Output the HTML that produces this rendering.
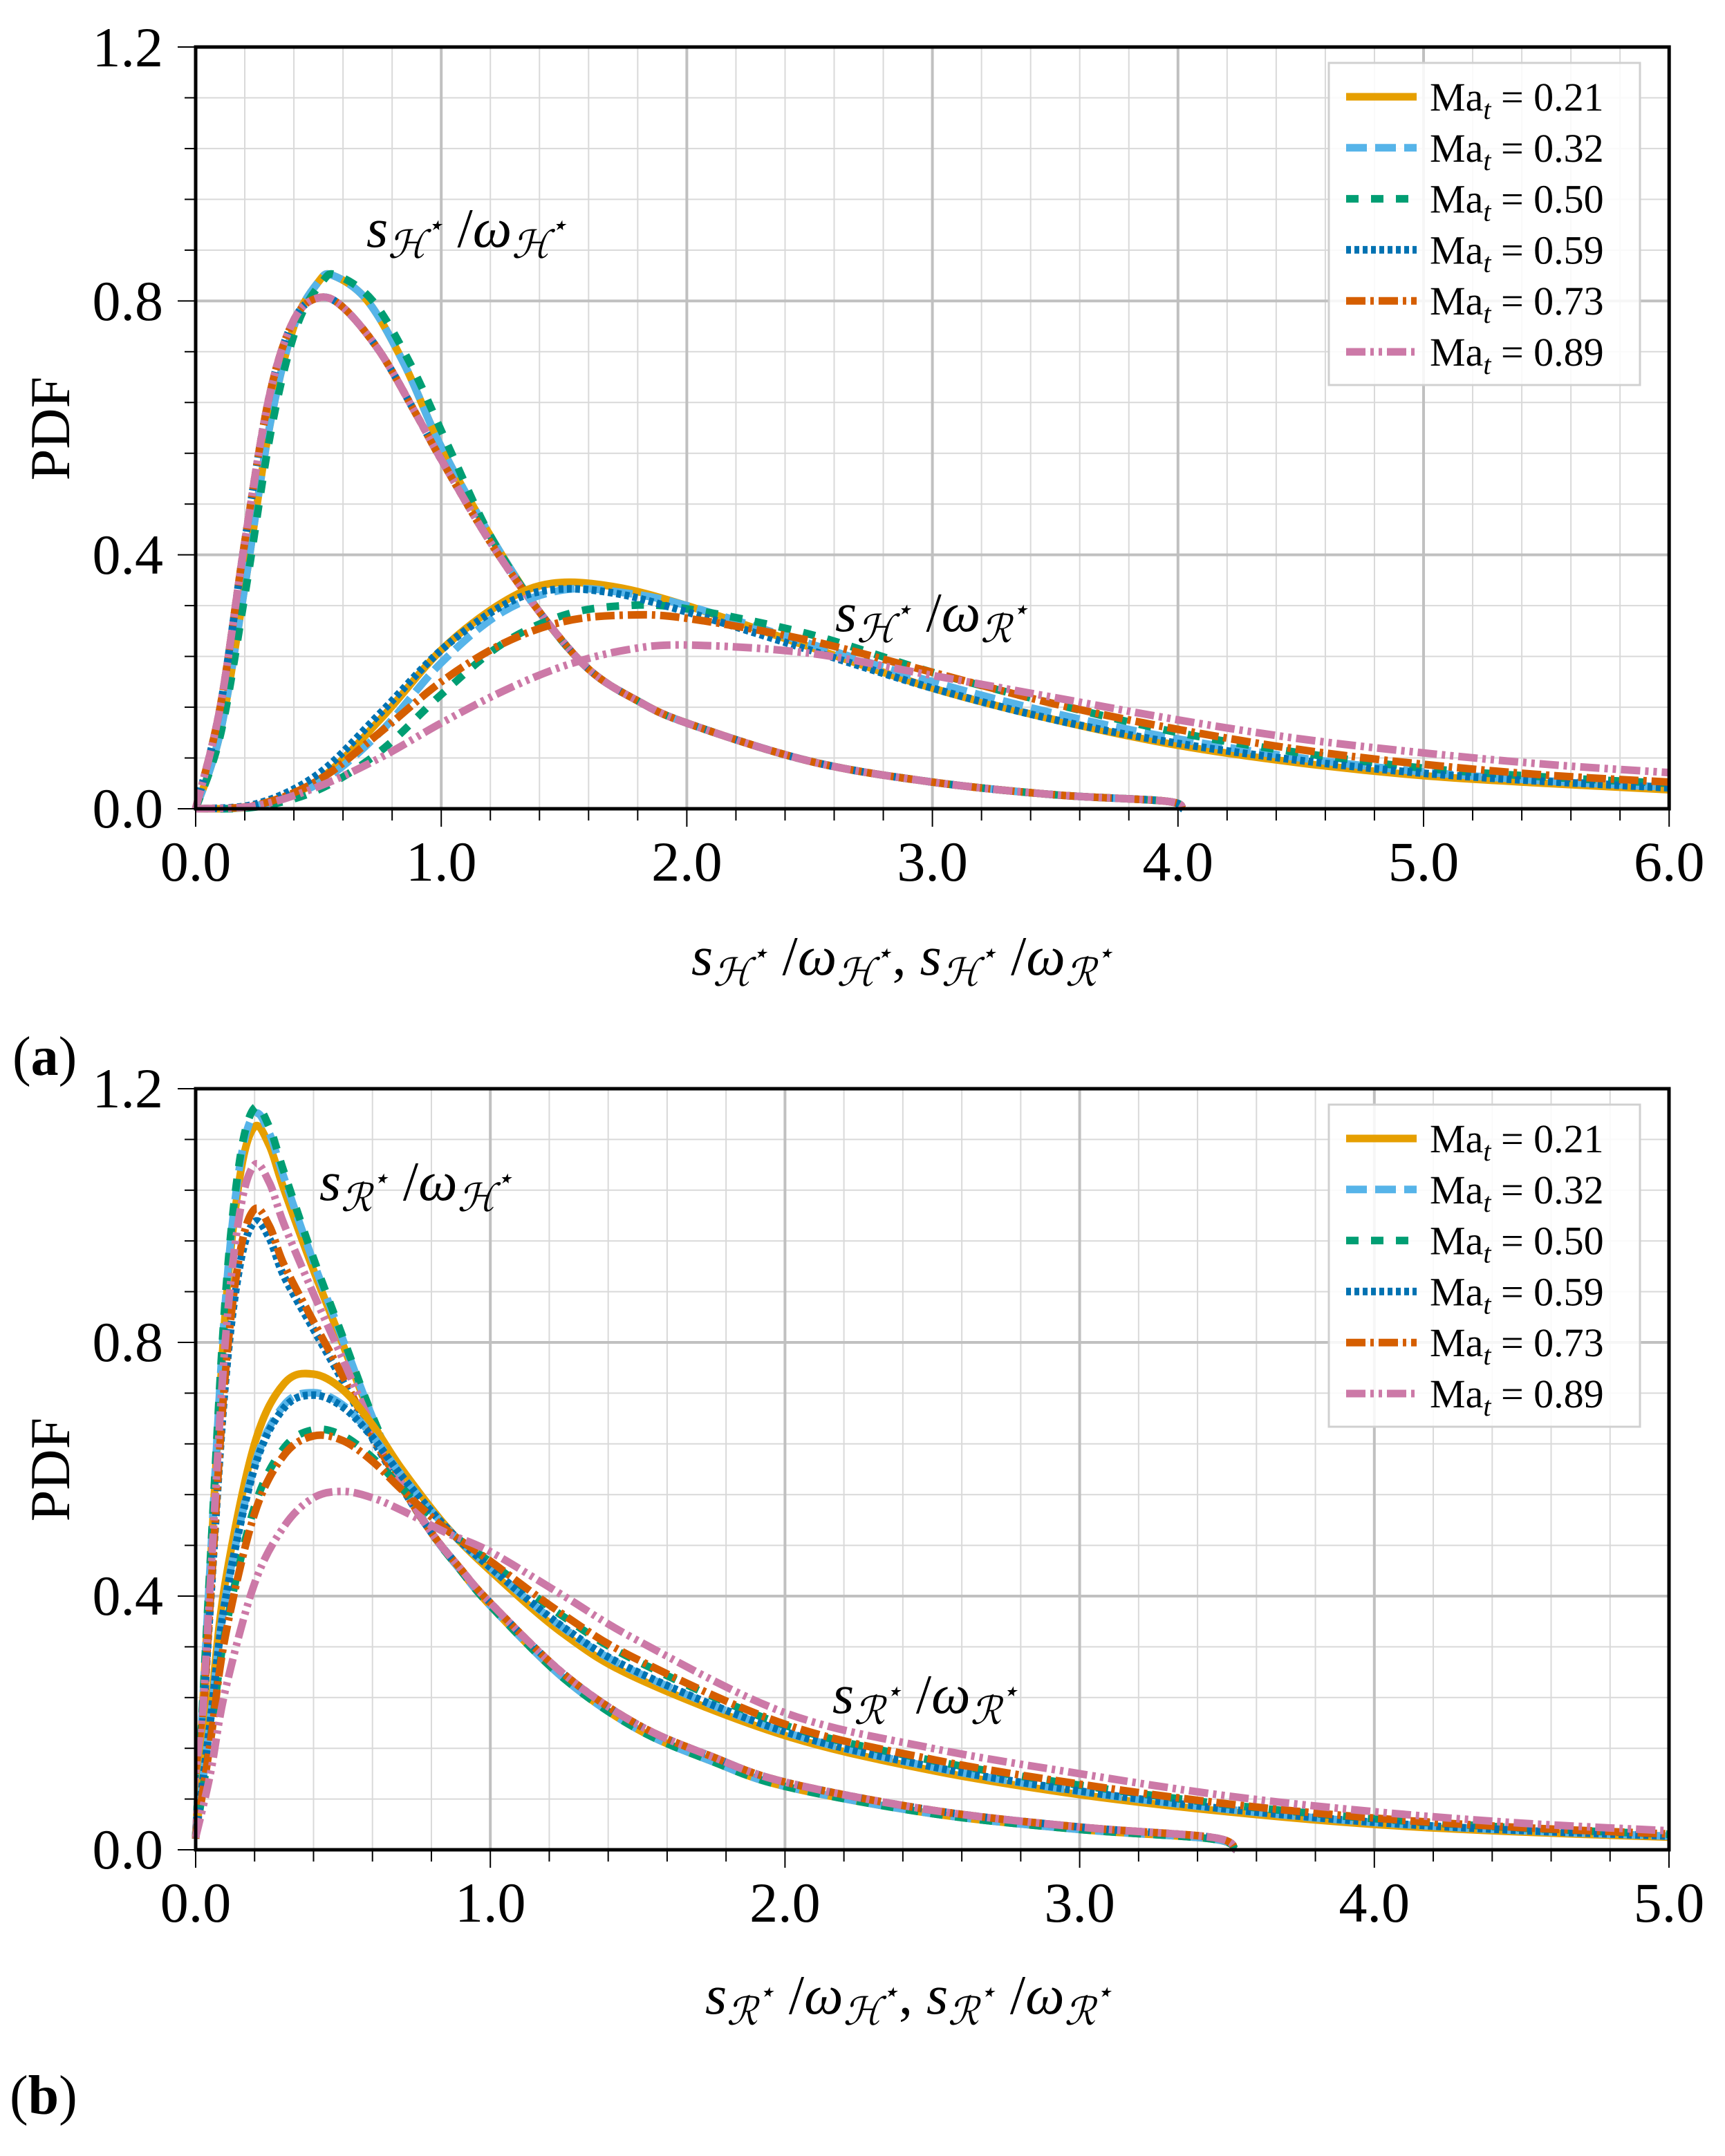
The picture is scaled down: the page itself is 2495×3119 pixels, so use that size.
<!DOCTYPE html>
<html><head><meta charset="utf-8">
<style>
html,body{margin:0;padding:0;background:#fff;}
svg{display:block;}
text{font-family:"Liberation Serif","DejaVu Serif",serif;fill:#000;}
</style></head>
<body>
<svg id="s" xmlns="http://www.w3.org/2000/svg" width="2495" height="3119" viewBox="0 0 2495 3119">
<rect width="2495" height="3119" fill="#fff"/>
<g id="gA"></g>
<g id="gB"></g>
<g font-size="82" text-anchor="end">
<text x="236" y="1197">0.0</text><text x="236" y="830">0.4</text><text x="236" y="463">0.8</text><text x="236" y="96">1.2</text>
<text x="236" y="2703">0.0</text><text x="236" y="2336">0.4</text><text x="236" y="1969">0.8</text><text x="236" y="1602">1.2</text>
</g>
<g font-size="82" text-anchor="middle" id="xl"></g>
<text font-size="82" transform="translate(100,620) rotate(-90)" text-anchor="middle">PDF</text>
<text font-size="82" transform="translate(100,2126) rotate(-90)" text-anchor="middle">PDF</text>
<g font-style="italic">
<text x="530" y="357" font-size="80">s<tspan font-size="56" dy="16">ℋ</tspan><tspan font-size="40" dy="-34">⋆</tspan><tspan dy="18" font-style="normal"> /</tspan>ω<tspan font-size="56" dy="16">ℋ</tspan><tspan font-size="40" dy="-34">⋆</tspan></text>
<text x="1208" y="913" font-size="80">s<tspan font-size="56" dy="16">ℋ</tspan><tspan font-size="40" dy="-34">⋆</tspan><tspan dy="18" font-style="normal"> /</tspan>ω<tspan font-size="56" dy="16">ℛ</tspan><tspan font-size="40" dy="-34">⋆</tspan></text>
<text x="462" y="1736" font-size="80">s<tspan font-size="56" dy="16">ℛ</tspan><tspan font-size="40" dy="-34">⋆</tspan><tspan dy="18" font-style="normal"> /</tspan>ω<tspan font-size="56" dy="16">ℋ</tspan><tspan font-size="40" dy="-34">⋆</tspan></text>
<text x="1204" y="2478" font-size="80">s<tspan font-size="56" dy="16">ℛ</tspan><tspan font-size="40" dy="-34">⋆</tspan><tspan dy="18" font-style="normal"> /</tspan>ω<tspan font-size="56" dy="16">ℛ</tspan><tspan font-size="40" dy="-34">⋆</tspan></text>
<text x="1000" y="1410" font-size="80">s<tspan font-size="56" dy="16">ℋ</tspan><tspan font-size="40" dy="-34">⋆</tspan><tspan dy="18" font-style="normal"> /</tspan>ω<tspan font-size="56" dy="16">ℋ</tspan><tspan font-size="40" dy="-34">⋆</tspan><tspan dy="18" font-style="normal">,  </tspan>s<tspan font-size="56" dy="16">ℋ</tspan><tspan font-size="40" dy="-34">⋆</tspan><tspan dy="18" font-style="normal"> /</tspan>ω<tspan font-size="56" dy="16">ℛ</tspan><tspan font-size="40" dy="-34">⋆</tspan></text>
<text x="1020" y="2913" font-size="80">s<tspan font-size="56" dy="16">ℛ</tspan><tspan font-size="40" dy="-34">⋆</tspan><tspan dy="18" font-style="normal"> /</tspan>ω<tspan font-size="56" dy="16">ℋ</tspan><tspan font-size="40" dy="-34">⋆</tspan><tspan dy="18" font-style="normal">,  </tspan>s<tspan font-size="56" dy="16">ℛ</tspan><tspan font-size="40" dy="-34">⋆</tspan><tspan dy="18" font-style="normal"> /</tspan>ω<tspan font-size="56" dy="16">ℛ</tspan><tspan font-size="40" dy="-34">⋆</tspan></text>
</g>
<text x="18" y="1555" font-size="80"><tspan>(</tspan><tspan font-weight="bold">a</tspan><tspan>)</tspan></text>
<text x="14" y="3058" font-size="80"><tspan>(</tspan><tspan font-weight="bold">b</tspan><tspan>)</tspan></text>
</svg>
<script>
var NS="http://www.w3.org/2000/svg";
function el(p,t,a){var e=document.createElementNS(NS,t);for(var k in a)e.setAttribute(k,a[k]);p.appendChild(e);return e;}
var cols=["#E69F00","#56B4E9","#009E73","#0072B2","#D55E00","#CC79A7"];
var dashes=["none","30 12","18 18","7 5","28 7 5 7","28 7 5 7 5 7"];
var labs=["0.21","0.32","0.50","0.59","0.73","0.89"];
function path(pts,X,Y){
  var P=pts.map(function(p){return [X(p[0]),Y(p[1])];});
  var d="M"+P[0][0].toFixed(1)+","+P[0][1].toFixed(1);
  for(var i=0;i<P.length-1;i++){
    var p0=P[i>0?i-1:i],p1=P[i],p2=P[i+1],p3=P[i+2<P.length?i+2:i+1];
    var t=0.5/3;
    var c1=[p1[0]+(p2[0]-p0[0])*t,p1[1]+(p2[1]-p0[1])*t];
    var c2=[p2[0]-(p3[0]-p1[0])*t,p2[1]-(p3[1]-p1[1])*t];
    d+="C"+c1[0].toFixed(1)+","+c1[1].toFixed(1)+" "+c2[0].toFixed(1)+","+c2[1].toFixed(1)+" "+p2[0].toFixed(1)+","+p2[1].toFixed(1);
  }
  return d;
}
function plot(g,top,bot,xmax,unit,series,legY){
  var L=283,R=L+xmax*unit;
  var X=function(x){return L+x*unit;},Y=function(y){return bot-y*(bot-top)/1.2;};
  for(var x=0.2;x<xmax-0.01;x+=0.2){if(Math.abs(x-Math.round(x))<0.01)continue;el(g,"line",{x1:X(x),x2:X(x),y1:top,y2:bot,stroke:"#d9d9d9","stroke-width":2});}
  for(var i=1;i<15;i++){if(i%5==0)continue;var y=i*0.08;el(g,"line",{x1:L,x2:R,y1:Y(y),y2:Y(y),stroke:"#d9d9d9","stroke-width":2});}
  for(var x=1;x<xmax;x++)el(g,"line",{x1:X(x),x2:X(x),y1:top,y2:bot,stroke:"#c0c0c0","stroke-width":4});
  for(var y=0.4;y<1.1;y+=0.4)el(g,"line",{x1:L,x2:R,y1:Y(y),y2:Y(y),stroke:"#c0c0c0","stroke-width":4});
  series.forEach(function(s){
    s.forEach(function(c,k){
      el(g,"path",{d:path(c,X,Y),fill:"none",stroke:cols[k],"stroke-width":11,"stroke-dasharray":dashes[k],"stroke-linejoin":"round"});
    });
  });
  el(g,"rect",{x:1922,y:legY,width:450,height:466,fill:"#fff","fill-opacity":0.85,stroke:"#d0d0d0","stroke-width":3});
  for(var k=0;k<6;k++){
    var cy=legY+49+k*73.8;
    el(g,"line",{x1:1947,x2:2049,y1:cy,y2:cy,stroke:cols[k],"stroke-width":11,"stroke-dasharray":dashes[k]});
    var t=el(g,"text",{x:2068,y:cy+20,"font-size":58});
    t.innerHTML='Ma<tspan font-style="italic" font-size="40" dy="12">t</tspan><tspan dy="-12"> = '+labs[k]+'</tspan>';
  }
  for(var x=0;x<=xmax+0.001;x+=0.2){var maj=Math.abs(x-Math.round(x))<0.01;el(g,"line",{x1:X(x),x2:X(x),y1:bot,y2:bot+(maj?26:17),stroke:"#000","stroke-width":2});}
  for(var i=0;i<=15;i++){var maj=i%5==0;el(g,"line",{x1:L,x2:L-(maj?26:16),y1:Y(i*0.08),y2:Y(i*0.08),stroke:"#000","stroke-width":2});}
  el(g,"rect",{x:L,y:top,width:R-L,height:bot-top,fill:"none",stroke:"#000","stroke-width":5});
  var xl=document.getElementById("xl");
  for(var x=0;x<=xmax;x++){var t=el(xl,"text",{x:X(x),y:bot+104});t.textContent=x.toFixed(1);}
}
var g1=[[0,0],[0.1,0.12],[0.2,0.35],[0.3,0.6],[0.4,0.76],[0.5,0.83],[0.56,0.84],[0.7,0.8],[0.85,0.7],[1.0,0.57],[1.2,0.43],[1.4,0.31],[1.6,0.22],[1.8,0.17],[2.0,0.135],[2.5,0.075],[3.0,0.042],[3.5,0.022],[3.95,0.012],[4.02,0]];
var g2=[[0,0],[0.1,0.16],[0.2,0.42],[0.3,0.65],[0.4,0.77],[0.5,0.805],[0.6,0.79],[0.75,0.72],[0.9,0.62],[1.0,0.55],[1.2,0.42],[1.4,0.31],[1.6,0.22],[1.8,0.17],[2.0,0.135],[2.5,0.075],[3.0,0.042],[3.5,0.022],[3.95,0.012],[4.02,0]];
var g1g=g1.map(function(p){return [p[0]<1.2?p[0]*1.03:p[0],p[1]];});
var HH=[g1,g1,g1g,g2,g2,g2];
var HR=[
[[0,0],[0.25,0.005],[0.5,0.045],[0.75,0.14],[1.0,0.25],[1.25,0.325],[1.45,0.355],[1.7,0.35],[2.0,0.32],[2.5,0.255],[3.0,0.19],[3.5,0.14],[4.0,0.1],[4.5,0.072],[5.0,0.052],[5.5,0.04],[6.0,0.03]],
[[0,0],[0.25,0.005],[0.5,0.04],[0.75,0.12],[1.0,0.23],[1.25,0.31],[1.5,0.345],[1.75,0.34],[2.0,0.32],[2.5,0.26],[3.0,0.2],[3.5,0.15],[4.0,0.11],[4.5,0.08],[5.0,0.058],[5.5,0.044],[6.0,0.034]],
[[0,0],[0.25,0.003],[0.5,0.03],[0.75,0.09],[1.0,0.18],[1.25,0.26],[1.5,0.305],[1.75,0.32],[2.0,0.315],[2.5,0.275],[3.0,0.215],[3.5,0.165],[4.0,0.12],[4.5,0.088],[5.0,0.064],[5.5,0.05],[6.0,0.04]],
[[0,0],[0.25,0.008],[0.5,0.055],[0.75,0.15],[1.0,0.25],[1.25,0.32],[1.45,0.345],[1.7,0.34],[2.0,0.31],[2.5,0.25],[3.0,0.19],[3.5,0.14],[4.0,0.103],[4.5,0.076],[5.0,0.056],[5.5,0.043],[6.0,0.033]],
[[0,0],[0.25,0.006],[0.5,0.045],[0.75,0.12],[1.0,0.2],[1.25,0.26],[1.5,0.295],[1.75,0.305],[2.0,0.3],[2.5,0.265],[3.0,0.215],[3.5,0.165],[4.0,0.125],[4.5,0.093],[5.0,0.07],[5.5,0.053],[6.0,0.042]],
[[0,0],[0.25,0.005],[0.5,0.035],[0.75,0.08],[1.0,0.135],[1.25,0.185],[1.5,0.225],[1.75,0.25],[2.0,0.258],[2.5,0.245],[3.0,0.21],[3.5,0.175],[4.0,0.14],[4.5,0.11],[5.0,0.088],[5.5,0.07],[6.0,0.057]]];
plot(document.getElementById("gA"),68,1170,6,355.2,[HH,HR],91);
var T=[[0,0.02],[0.05,0.45],[0.1,0.85],[0.15,1.07],[0.2,1.15],[0.25,1.12],[0.3,1.05],[0.4,0.92],[0.5,0.8],[0.6,0.68],[0.7,0.58],[0.8,0.5],[0.9,0.44],[1.0,0.385],[1.25,0.27],[1.5,0.19],[1.75,0.14],[2.0,0.1],[2.5,0.057],[3.0,0.032],[3.45,0.017],[3.53,0]];
var pk=[1.14,1.16,1.17,0.99,1.01,1.08];
var RH=pk.map(function(p,k){return T.map(function(q){var x=q[0];var w=x<=0.3?1:(x>=0.75?0:(0.75-x)/0.45);var tl=(k>=3&&x>0.8)?1+0.15*(x-0.8)/2.7:1;return [x,q[1]*(1+(p/1.15-1)*w)*tl];});});
var XG=[0,0.05,0.1,0.2,0.3,0.4,0.5,0.6,0.7,0.85,1.0,1.25,1.5,2.0,2.5,3.0,3.5,4.0,4.5,5.0];
var OR=[0.02,0.22,0.42,0.64,0.735,0.75,0.725,0.67,0.6,0.51,0.44,0.34,0.27,0.18,0.125,0.087,0.06,0.04,0.028,0.02];
var PK=[0.02,0.12,0.25,0.42,0.51,0.555,0.565,0.555,0.535,0.5,0.47,0.4,0.33,0.216,0.16,0.12,0.085,0.06,0.042,0.03];
var fr=[0,0.15,0.45,0.17,0.5,1];
var RRs=fr.map(function(a){return XG.map(function(x,i){return [x,OR[i]*(1-a)+PK[i]*a];});});
plot(document.getElementById("gB"),1575,2676,5,426.2,[RH,RRs],1598);
</script>
</body></html>
